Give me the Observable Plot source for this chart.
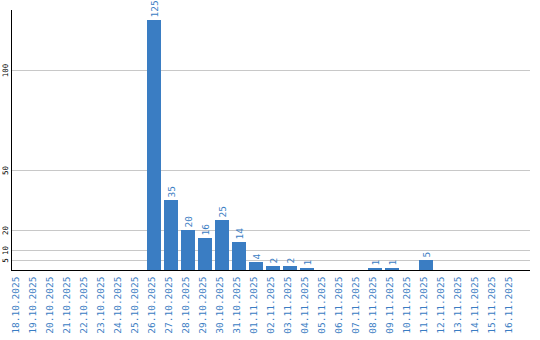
<!DOCTYPE html>
<html>
<head>
<meta charset="utf-8">
<script src="https://cdn.jsdelivr.net/npm/d3@7"></script>
<script src="https://cdn.jsdelivr.net/npm/@observablehq/plot@0.6"></script>
<style>
  html, body { margin: 0; padding: 0; background: #fff; }
  #chart svg { display: block; }
</style>
</head>
<body>
<div id="chart"></div>
<script>
const dates = [
  "18.10.2025","19.10.2025","20.10.2025","21.10.2025","22.10.2025","23.10.2025",
  "24.10.2025","25.10.2025","26.10.2025","27.10.2025","28.10.2025","29.10.2025",
  "30.10.2025","31.10.2025","01.11.2025","02.11.2025","03.11.2025","04.11.2025",
  "05.11.2025","06.11.2025","07.11.2025","08.11.2025","09.11.2025","10.11.2025",
  "11.11.2025","12.11.2025","13.11.2025","14.11.2025","15.11.2025","16.11.2025"
];
const values = [
  0, 0, 0, 0, 0, 0,
  0, 0, 125, 35, 20, 16,
  25, 14, 4, 2, 2, 1,
  0, 0, 0, 1, 1, 0,
  5, 0, 0, 0, 0, 0
];
const yTicks = [5, 10, 20, 50, 100];

const data = dates.map((d, i) => ({date: d, value: values[i]}));
const blue = "#3a7dc3";
const mono = "'DejaVu Sans Mono', monospace";

const chart = Plot.plot({
  width: 540,
  height: 340,
  marginLeft: 11,
  marginRight: 10,
  marginTop: 10,
  marginBottom: 70,
  style: {background: "#fff", fontFamily: mono},
  x: {type: "band", domain: dates, paddingInner: 0.18, paddingOuter: 0.35, align: 0, axis: null},
  y: {domain: [0, 130], axis: null},
  marks: [
    Plot.ruleY(yTicks, {stroke: "#c8c8c8", strokeWidth: 1}),
    Plot.barY(data, {x: "date", y: "value", fill: blue}),
    Plot.ruleY([0], {stroke: "#000", strokeWidth: 1.2}),
    Plot.frame({anchor: "left", stroke: "#000", strokeWidth: 1}),
    Plot.text(data.filter(d => d.value > 0), {
      x: "date", y: "value", text: d => String(d.value),
      rotate: -90, textAnchor: "start", dy: -3,
      fill: blue, fontSize: 9.5, fontFamily: mono
    }),
    Plot.text(dates, {
      x: d => d, frameAnchor: "bottom", text: d => d,
      rotate: -90, textAnchor: "end", dy: 6,
      fill: blue, fontSize: 9.5, fontFamily: mono
    }),
    Plot.text(yTicks, {
      y: d => d, frameAnchor: "left", text: d => String(d),
      rotate: -90, textAnchor: "middle", dx: -6,
      fill: "#000", fontSize: 7.5, fontFamily: mono
    })
  ]
});
document.getElementById("chart").appendChild(chart);
</script>
</body>
</html>
